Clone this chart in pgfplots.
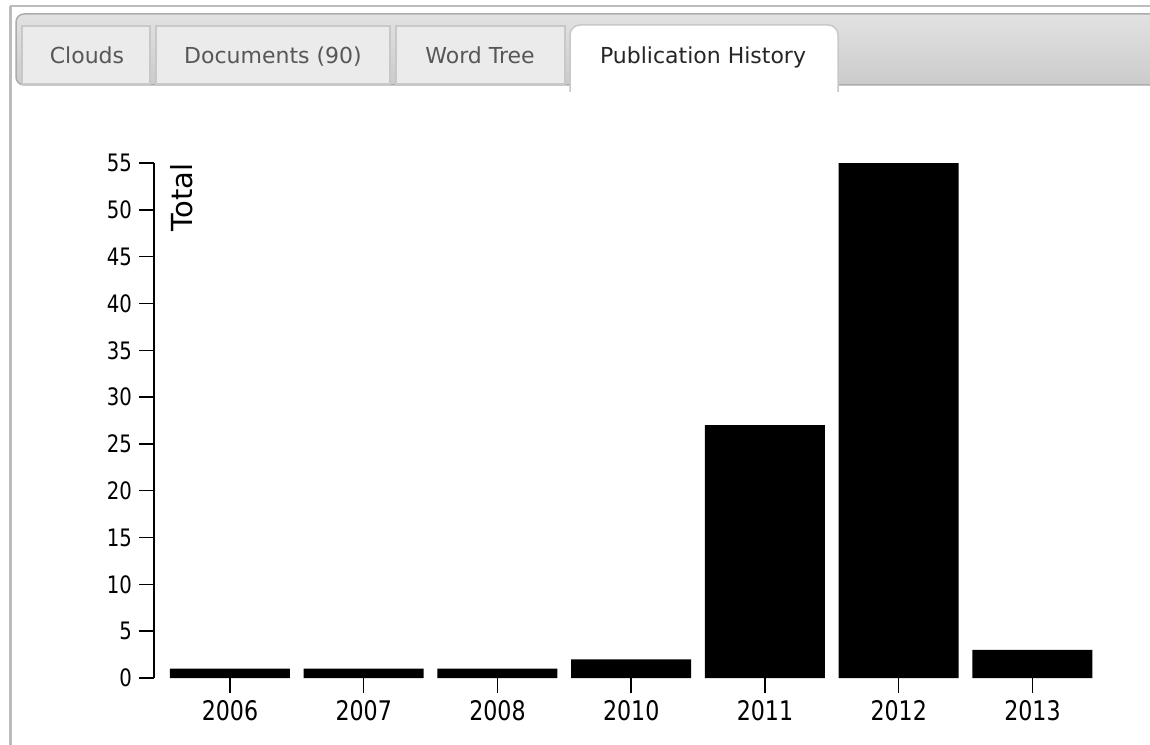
\documentclass[border=0pt]{standalone}
\usepackage{pgfplots}
\pgfplotsset{compat=1.18}
\usepackage{fontspec}
\setmainfont[FakeStretch=0.82]{DejaVu Sans}
\newfontfamily\tabfont{DejaVu Sans}
\definecolor{tabline}{HTML}{ABABAB}
\definecolor{tabborder}{HTML}{C8C8C8}
\definecolor{tabfill}{HTML}{EBEBEB}
\definecolor{bartop}{HTML}{E2E2E2}
\definecolor{barbot}{HTML}{CBCBCB}
\begin{document}
\begin{tikzpicture}
\useasboundingbox (0,0) rectangle (575pt,372pt);
\begin{scope}[shift={(0,372pt)},x=0.5pt,y=-0.5pt]
  % outer frame
  \draw[tabline!80, line width=1pt] (10,6) -- (1160,6);
  \draw[tabline!80, line width=1.5pt] (10,6) -- (10,750);
  % tab bar
  \draw[tabline, line width=0.75pt, top color=bartop, bottom color=barbot, rounded corners=4pt] (16,14) rectangle (1175,85);
  % inactive tabs
  \draw[tabborder, fill=tabfill, line width=0.75pt] (22,26) rectangle (150,84);
  \draw[tabborder, fill=tabfill, line width=0.75pt] (156,26) rectangle (390,84);
  \draw[tabborder, fill=tabfill, line width=0.75pt] (396,26) rectangle (565,84);
  % active tab
  \draw[tabborder, fill=white, line width=0.75pt, rounded corners=5pt] (570,92) -- (570,25) -- (838,25) -- (838,92);
  \fill[white] (570.8,80) rectangle (837.2,96);
  % tab texts
  \node[anchor=base, font=\tabfont\fontsize{11}{13}\selectfont, text=black!66] at (87,64) {Clouds};
  \node[anchor=base, font=\tabfont\fontsize{11}{13}\selectfont, text=black!66] at (273,64) {Documents (90)};
  \node[anchor=base, font=\tabfont\fontsize{11}{13}\selectfont, text=black!66] at (480,64) {Word Tree};
  \node[anchor=base, font=\tabfont\fontsize{11}{13}\selectfont, text=black!85] at (703,64) {Publication History};
  % y label
  \node[rotate=90, anchor=north east, inner sep=0pt, font=\tabfont\fontsize{14.5}{16}\selectfont] at (170,163) {Total};
\end{scope}
\begin{axis}[
  at={(77pt,33pt)}, anchor=south west,
  scale only axis, width=476pt, height=257.5pt,
  xmin=-0.568, xmax=6.55, ymin=0, ymax=55,
  axis lines=left,
  axis line style={-, line width=1pt},
  x axis line style={draw=none},
  ytick={0,5,...,55},
  xtick=data,
  xticklabels={2006,2007,2008,2010,2011,2012,2013},
  major tick length=7.5pt,
  tick align=outside,
  tick style={black, line width=0.75pt},
  /pgf/number format/assume math mode=true,
  yticklabel style={font=\fontsize{12}{14}\selectfont},
  xticklabel style={font=\fontsize{13.5}{16}\selectfont},
  ybar, bar width=60pt,
  clip=false,
]
\addplot[fill=black, draw=none] coordinates {(0,1) (1,1) (2,1) (3,2) (4,27) (5,55) (6,3)};
\end{axis}
\end{tikzpicture}
\end{document}
